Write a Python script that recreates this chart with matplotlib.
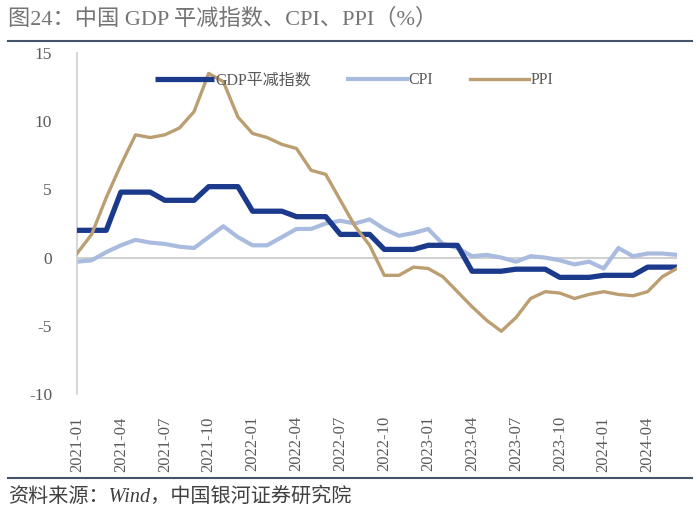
import matplotlib
matplotlib.use("Agg")
import matplotlib.pyplot as plt
import numpy as np

plt.rcParams['font.family'] = ['Liberation Serif', 'Noto Sans CJK SC', 'DejaVu Sans']
plt.rcParams['axes.unicode_minus'] = False

# monthly data, 2021-01 .. 2024-06
months = [f"{y}-{m:02d}" for y in range(2021, 2025) for m in range(1, 13)][:42]

ppi = [0.3, 1.7, 4.4, 6.8, 9.0, 8.8, 9.0, 9.5, 10.7, 13.5, 12.9, 10.3,
       9.1, 8.8, 8.3, 8.0, 6.4, 6.1, 4.2, 2.3, 0.9, -1.3, -1.3, -0.7,
       -0.8, -1.4, -2.5, -3.6, -4.6, -5.4, -4.4, -3.0, -2.5, -2.6, -3.0, -2.7,
       -2.5, -2.7, -2.8, -2.5, -1.4, -0.8]
cpi = [-0.3, -0.2, 0.4, 0.9, 1.3, 1.1, 1.0, 0.8, 0.7, 1.5, 2.3, 1.5,
       0.9, 0.9, 1.5, 2.1, 2.1, 2.5, 2.7, 2.5, 2.8, 2.1, 1.6, 1.8,
       2.1, 1.0, 0.7, 0.1, 0.2, 0.0, -0.3, 0.1, 0.0, -0.2, -0.5, -0.3,
       -0.8, 0.7, 0.1, 0.3, 0.3, 0.2]
# quarterly GDP deflator, shown for each month of the quarter
gdp_q = [2.0, 4.8, 4.2, 5.2, 3.4, 3.0, 1.7, 0.6, 0.9, -1.0, -0.85, -1.45, -1.3, -0.7]
gdp = [v for v in gdp_q for _ in range(3)]

tick_idx = list(range(0, 42, 3))
tick_labels = [months[i] for i in tick_idx]

c_gdp = "#1c3a8c"
c_cpi = "#a9bbdf"
c_ppi = "#bb9f72"
txt = "#595959"

fig = plt.figure(figsize=(7, 5.18), dpi=100)
ax = fig.add_axes([0.11, 0.2394, 0.857, 0.6583])

x = np.arange(len(months))
ax.axhline(0, color="#d0d0d0", lw=1.5, zorder=1)
ax.plot(x, gdp, color=c_gdp, lw=3.8, label="GDP平减指数", zorder=3, solid_capstyle="butt")
ax.plot(x, cpi, color=c_cpi, lw=3.0, label="CPI", zorder=2)
ax.plot(x, ppi, color=c_ppi, lw=2.4, label="PPI", zorder=4)

ax.set_xlim(0, 41)
ax.set_ylim(-10, 15)
ax.set_yticks([-10, -5, 0, 5, 10, 15])
ax.set_xticks(tick_idx)
ax.set_xticklabels(tick_labels, rotation=90)
ax.tick_params(axis="x", length=0, pad=16, labelsize=12, colors=txt)
ax.tick_params(axis="y", length=0, pad=18, labelsize=12.5, colors=txt)

for s in ["top", "right", "bottom"]:
    ax.spines[s].set_visible(False)
ax.spines["left"].set_color("#d0d0d0")
ax.spines["left"].set_linewidth(1.2)

leg = ax.legend(loc="upper center", bbox_to_anchor=(0.462, 0.985), ncol=3, frameon=False,
                fontsize=11.5, handlelength=3.7, handletextpad=0.1, columnspacing=2.3)
for t in leg.get_texts():
    t.set_color(txt)

fig.text(0.012, 0.962, "图24：中国 GDP 平减指数、CPI、PPI（%）", fontsize=16, color="#747474",
         ha="left", va="center")
fig.add_artist(plt.Line2D([0.012, 0.988], [0.921, 0.921], color="#44546a", lw=1.5))
fig.add_artist(plt.Line2D([0.012, 0.988], [0.077, 0.077], color="#44546a", lw=1.5))
fig.text(0.012, 0.04, "资料来源：Wind，中国银河证券研究院", fontsize=14.5, color="#404040",
         ha="left", va="center", style="italic")

fig.savefig("out.png", dpi=100)
